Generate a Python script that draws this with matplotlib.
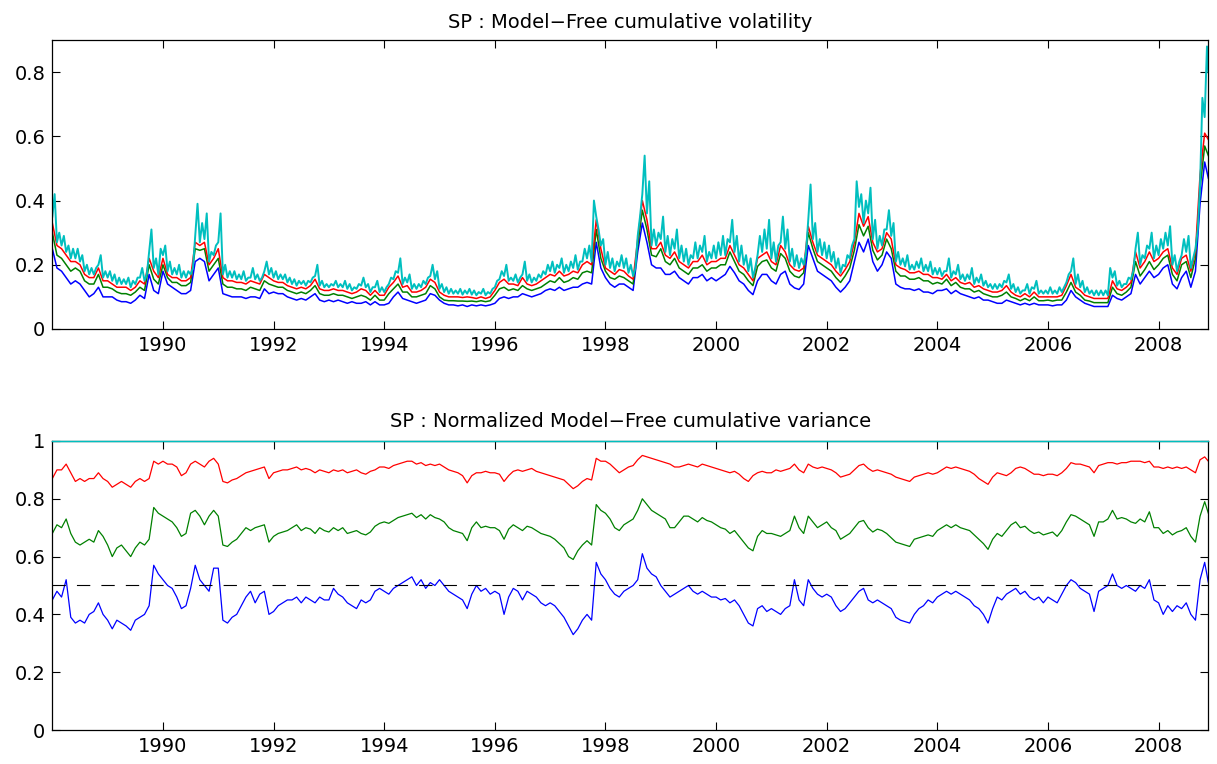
import numpy as np
import matplotlib
matplotlib.use("Agg")
import matplotlib.pyplot as plt

# monthly samples, Jan 1988 .. Nov 2008, plus the last trading day
years = np.append(1988 + np.arange(251) / 12.0, 2008.9)

# top panel: model-free cumulative volatility (one row per year)
# total volatility: start-of-month level and mid-month high
vol_cyan_base = [
    [0.35, 0.27, 0.26, 0.24, 0.22, 0.22, 0.21, 0.18, 0.17, 0.17, 0.20, 0.16],
    [0.16, 0.15, 0.14, 0.14, 0.14, 0.13, 0.14, 0.16, 0.15, 0.24, 0.19, 0.17],
    [0.23, 0.18, 0.17, 0.17, 0.16, 0.16, 0.17, 0.29, 0.27, 0.28, 0.21, 0.23],
    [0.27, 0.17, 0.16, 0.16, 0.155, 0.155, 0.15, 0.16, 0.155, 0.15, 0.18, 0.17],
    [0.16, 0.155, 0.155, 0.145, 0.14, 0.135, 0.14, 0.135, 0.145, 0.165, 0.135, 0.13],
    [0.13, 0.135, 0.13, 0.13, 0.125, 0.12, 0.125, 0.135, 0.13, 0.115, 0.13, 0.115],
    [0.115, 0.14, 0.155, 0.175, 0.14, 0.145, 0.125, 0.125, 0.13, 0.14, 0.165, 0.155],
    [0.125, 0.115, 0.11, 0.11, 0.11, 0.107, 0.11, 0.107, 0.105, 0.11, 0.105, 0.11],
    [0.13, 0.155, 0.165, 0.15, 0.15, 0.145, 0.17, 0.15, 0.145, 0.15, 0.16, 0.17],
    [0.18, 0.175, 0.19, 0.175, 0.18, 0.19, 0.185, 0.21, 0.22, 0.21, 0.35, 0.26],
    [0.20, 0.19, 0.18, 0.195, 0.19, 0.175, 0.165, 0.29, 0.42, 0.36, 0.26, 0.26],
    [0.28, 0.24, 0.23, 0.25, 0.22, 0.21, 0.20, 0.22, 0.22, 0.24, 0.21, 0.22],
    [0.22, 0.23, 0.23, 0.27, 0.24, 0.21, 0.20, 0.18, 0.16, 0.23, 0.24, 0.25],
    [0.22, 0.21, 0.27, 0.25, 0.21, 0.195, 0.19, 0.20, 0.34, 0.28, 0.24, 0.23],
    [0.22, 0.21, 0.19, 0.175, 0.195, 0.22, 0.28, 0.38, 0.33, 0.36, 0.28, 0.25],
    [0.26, 0.31, 0.29, 0.21, 0.20, 0.195, 0.185, 0.185, 0.19, 0.18, 0.18, 0.17],
    [0.17, 0.165, 0.18, 0.16, 0.17, 0.155, 0.15, 0.155, 0.14, 0.145, 0.135, 0.13],
    [0.125, 0.125, 0.13, 0.145, 0.125, 0.115, 0.11, 0.12, 0.11, 0.125, 0.11, 0.11],
    [0.11, 0.11, 0.11, 0.115, 0.145, 0.18, 0.14, 0.13, 0.115, 0.11, 0.105, 0.105],
    [0.105, 0.105, 0.16, 0.135, 0.13, 0.14, 0.155, 0.25, 0.20, 0.22, 0.25, 0.22],
    [0.23, 0.25, 0.26, 0.20, 0.18, 0.23, 0.24, 0.19, 0.25, 0.45, 0.66, 0.80],
]
vol_cyan_high = [
    [0.42, 0.30, 0.29, 0.26, 0.25, 0.25, 0.23, 0.20, 0.19, 0.19, 0.23, 0.18],
    [0.18, 0.17, 0.16, 0.155, 0.16, 0.15, 0.16, 0.19, 0.17, 0.31, 0.22, 0.25],
    [0.26, 0.21, 0.19, 0.20, 0.18, 0.18, 0.19, 0.39, 0.33, 0.36, 0.24, 0.26],
    [0.36, 0.20, 0.18, 0.18, 0.17, 0.18, 0.16, 0.19, 0.17, 0.16, 0.21, 0.19],
    [0.18, 0.17, 0.17, 0.16, 0.155, 0.15, 0.15, 0.15, 0.16, 0.20, 0.15, 0.14],
    [0.14, 0.15, 0.14, 0.15, 0.14, 0.13, 0.14, 0.16, 0.14, 0.13, 0.15, 0.13],
    [0.13, 0.16, 0.18, 0.22, 0.16, 0.17, 0.14, 0.14, 0.15, 0.16, 0.20, 0.18],
    [0.14, 0.13, 0.125, 0.12, 0.125, 0.12, 0.125, 0.12, 0.115, 0.125, 0.115, 0.125],
    [0.15, 0.18, 0.20, 0.16, 0.17, 0.16, 0.21, 0.17, 0.16, 0.17, 0.18, 0.20],
    [0.21, 0.20, 0.22, 0.20, 0.21, 0.23, 0.21, 0.25, 0.26, 0.40, 0.31, 0.28],
    [0.24, 0.22, 0.21, 0.23, 0.22, 0.20, 0.19, 0.35, 0.54, 0.46, 0.31, 0.30],
    [0.35, 0.29, 0.28, 0.31, 0.26, 0.25, 0.23, 0.27, 0.26, 0.29, 0.24, 0.26],
    [0.27, 0.29, 0.28, 0.34, 0.29, 0.26, 0.23, 0.22, 0.19, 0.29, 0.31, 0.34],
    [0.27, 0.26, 0.35, 0.31, 0.25, 0.23, 0.22, 0.24, 0.45, 0.33, 0.28, 0.27],
    [0.26, 0.24, 0.22, 0.20, 0.23, 0.26, 0.46, 0.42, 0.40, 0.44, 0.34, 0.29],
    [0.31, 0.37, 0.33, 0.24, 0.22, 0.23, 0.20, 0.21, 0.22, 0.20, 0.21, 0.19],
    [0.19, 0.18, 0.22, 0.18, 0.20, 0.17, 0.17, 0.19, 0.16, 0.17, 0.15, 0.14],
    [0.14, 0.14, 0.15, 0.17, 0.14, 0.13, 0.12, 0.14, 0.13, 0.15, 0.12, 0.12],
    [0.13, 0.12, 0.13, 0.13, 0.17, 0.22, 0.17, 0.15, 0.13, 0.12, 0.12, 0.12],
    [0.12, 0.19, 0.18, 0.15, 0.14, 0.16, 0.18, 0.30, 0.23, 0.26, 0.30, 0.26],
    [0.28, 0.30, 0.32, 0.23, 0.21, 0.28, 0.29, 0.22, 0.31, 0.72, 0.88],
]
vol_red = [
    [0.33, 0.26, 0.25, 0.23, 0.21, 0.21, 0.20, 0.17, 0.16, 0.16, 0.19, 0.15],
    [0.15, 0.14, 0.13, 0.13, 0.13, 0.12, 0.13, 0.15, 0.14, 0.22, 0.18, 0.16],
    [0.22, 0.17, 0.16, 0.16, 0.15, 0.15, 0.16, 0.27, 0.26, 0.27, 0.20, 0.22],
    [0.25, 0.16, 0.15, 0.15, 0.145, 0.145, 0.14, 0.15, 0.145, 0.14, 0.17, 0.16],
    [0.15, 0.145, 0.145, 0.135, 0.13, 0.125, 0.13, 0.125, 0.135, 0.155, 0.125, 0.12],
    [0.12, 0.125, 0.12, 0.12, 0.115, 0.11, 0.115, 0.125, 0.12, 0.105, 0.12, 0.105],
    [0.105, 0.13, 0.145, 0.165, 0.13, 0.135, 0.115, 0.115, 0.12, 0.13, 0.155, 0.145],
    [0.115, 0.105, 0.10, 0.10, 0.10, 0.098, 0.10, 0.098, 0.095, 0.10, 0.095, 0.10],
    [0.12, 0.145, 0.155, 0.14, 0.14, 0.135, 0.16, 0.14, 0.135, 0.14, 0.15, 0.16],
    [0.17, 0.165, 0.18, 0.165, 0.17, 0.18, 0.175, 0.20, 0.21, 0.20, 0.34, 0.25],
    [0.19, 0.18, 0.17, 0.185, 0.18, 0.165, 0.155, 0.28, 0.40, 0.34, 0.25, 0.25],
    [0.27, 0.23, 0.22, 0.24, 0.21, 0.20, 0.19, 0.21, 0.21, 0.23, 0.20, 0.21],
    [0.21, 0.22, 0.22, 0.26, 0.23, 0.20, 0.19, 0.17, 0.15, 0.22, 0.23, 0.24],
    [0.21, 0.20, 0.26, 0.24, 0.20, 0.185, 0.18, 0.19, 0.32, 0.27, 0.23, 0.22],
    [0.21, 0.20, 0.18, 0.165, 0.185, 0.21, 0.27, 0.36, 0.32, 0.35, 0.27, 0.24],
    [0.25, 0.30, 0.28, 0.20, 0.19, 0.185, 0.175, 0.175, 0.18, 0.17, 0.17, 0.16],
    [0.16, 0.155, 0.17, 0.15, 0.16, 0.145, 0.14, 0.145, 0.13, 0.135, 0.125, 0.12],
    [0.115, 0.115, 0.12, 0.135, 0.115, 0.105, 0.10, 0.11, 0.10, 0.115, 0.10, 0.10],
    [0.10, 0.10, 0.10, 0.105, 0.135, 0.17, 0.13, 0.12, 0.105, 0.10, 0.095, 0.095],
    [0.095, 0.095, 0.15, 0.125, 0.12, 0.13, 0.145, 0.24, 0.19, 0.21, 0.24, 0.21],
    [0.22, 0.24, 0.25, 0.19, 0.17, 0.22, 0.23, 0.18, 0.24, 0.48, 0.61, 0.59],
]
vol_green = [
    [0.30, 0.23, 0.22, 0.20, 0.18, 0.19, 0.18, 0.15, 0.14, 0.14, 0.17, 0.13],
    [0.13, 0.125, 0.115, 0.11, 0.11, 0.105, 0.115, 0.13, 0.12, 0.20, 0.155, 0.14],
    [0.20, 0.16, 0.145, 0.145, 0.135, 0.135, 0.145, 0.25, 0.245, 0.25, 0.18, 0.20],
    [0.22, 0.14, 0.13, 0.13, 0.125, 0.125, 0.12, 0.13, 0.125, 0.12, 0.15, 0.14],
    [0.135, 0.13, 0.13, 0.12, 0.115, 0.11, 0.115, 0.11, 0.12, 0.135, 0.11, 0.105],
    [0.105, 0.11, 0.105, 0.105, 0.10, 0.095, 0.10, 0.105, 0.10, 0.09, 0.105, 0.09],
    [0.09, 0.11, 0.125, 0.14, 0.115, 0.115, 0.10, 0.10, 0.105, 0.11, 0.135, 0.125],
    [0.10, 0.09, 0.088, 0.088, 0.087, 0.087, 0.086, 0.087, 0.085, 0.088, 0.085, 0.088],
    [0.105, 0.125, 0.13, 0.12, 0.125, 0.12, 0.135, 0.125, 0.12, 0.125, 0.13, 0.14],
    [0.15, 0.145, 0.16, 0.145, 0.15, 0.16, 0.155, 0.175, 0.18, 0.175, 0.31, 0.22],
    [0.18, 0.16, 0.155, 0.165, 0.16, 0.15, 0.14, 0.26, 0.37, 0.31, 0.23, 0.225],
    [0.25, 0.21, 0.20, 0.22, 0.19, 0.18, 0.17, 0.19, 0.19, 0.20, 0.18, 0.19],
    [0.19, 0.20, 0.20, 0.24, 0.21, 0.18, 0.17, 0.15, 0.135, 0.195, 0.21, 0.215],
    [0.19, 0.18, 0.235, 0.22, 0.18, 0.165, 0.16, 0.175, 0.30, 0.25, 0.21, 0.20],
    [0.19, 0.18, 0.16, 0.145, 0.165, 0.19, 0.245, 0.325, 0.29, 0.32, 0.245, 0.215],
    [0.23, 0.28, 0.25, 0.18, 0.165, 0.165, 0.155, 0.155, 0.16, 0.15, 0.15, 0.14],
    [0.145, 0.14, 0.155, 0.135, 0.145, 0.13, 0.125, 0.125, 0.115, 0.12, 0.11, 0.105],
    [0.10, 0.10, 0.105, 0.115, 0.10, 0.095, 0.088, 0.095, 0.088, 0.10, 0.088, 0.088],
    [0.09, 0.087, 0.09, 0.09, 0.115, 0.145, 0.115, 0.105, 0.09, 0.087, 0.082, 0.082],
    [0.082, 0.082, 0.13, 0.11, 0.105, 0.115, 0.13, 0.21, 0.165, 0.185, 0.21, 0.185],
    [0.20, 0.22, 0.23, 0.17, 0.15, 0.20, 0.21, 0.16, 0.22, 0.44, 0.57, 0.54],
]
vol_blue = [
    [0.25, 0.19, 0.18, 0.16, 0.14, 0.15, 0.14, 0.12, 0.10, 0.11, 0.13, 0.10],
    [0.10, 0.10, 0.09, 0.085, 0.085, 0.08, 0.09, 0.105, 0.095, 0.17, 0.12, 0.11],
    [0.18, 0.14, 0.13, 0.12, 0.11, 0.11, 0.12, 0.21, 0.22, 0.21, 0.15, 0.17],
    [0.19, 0.11, 0.105, 0.10, 0.10, 0.10, 0.095, 0.10, 0.10, 0.095, 0.125, 0.11],
    [0.115, 0.11, 0.11, 0.10, 0.095, 0.09, 0.095, 0.09, 0.10, 0.11, 0.09, 0.085],
    [0.09, 0.085, 0.09, 0.085, 0.08, 0.085, 0.08, 0.08, 0.085, 0.075, 0.085, 0.075],
    [0.075, 0.08, 0.10, 0.115, 0.095, 0.09, 0.085, 0.08, 0.085, 0.09, 0.11, 0.105],
    [0.09, 0.08, 0.075, 0.075, 0.072, 0.075, 0.07, 0.075, 0.072, 0.075, 0.072, 0.075],
    [0.08, 0.095, 0.10, 0.095, 0.10, 0.10, 0.11, 0.105, 0.10, 0.105, 0.11, 0.12],
    [0.125, 0.12, 0.13, 0.12, 0.125, 0.13, 0.13, 0.14, 0.145, 0.14, 0.27, 0.19],
    [0.16, 0.14, 0.13, 0.14, 0.14, 0.13, 0.12, 0.24, 0.33, 0.27, 0.20, 0.19],
    [0.19, 0.17, 0.17, 0.18, 0.16, 0.15, 0.14, 0.16, 0.16, 0.17, 0.15, 0.16],
    [0.15, 0.16, 0.17, 0.195, 0.175, 0.15, 0.14, 0.12, 0.107, 0.15, 0.17, 0.17],
    [0.15, 0.14, 0.17, 0.18, 0.14, 0.128, 0.123, 0.14, 0.26, 0.22, 0.18, 0.17],
    [0.16, 0.15, 0.13, 0.115, 0.13, 0.15, 0.21, 0.27, 0.24, 0.28, 0.21, 0.18],
    [0.20, 0.24, 0.22, 0.14, 0.13, 0.125, 0.125, 0.12, 0.125, 0.115, 0.115, 0.11],
    [0.12, 0.12, 0.125, 0.11, 0.12, 0.11, 0.105, 0.10, 0.095, 0.10, 0.09, 0.09],
    [0.085, 0.08, 0.08, 0.09, 0.085, 0.08, 0.075, 0.08, 0.075, 0.08, 0.075, 0.075],
    [0.075, 0.072, 0.075, 0.075, 0.09, 0.12, 0.10, 0.09, 0.08, 0.075, 0.07, 0.07],
    [0.07, 0.07, 0.105, 0.095, 0.09, 0.10, 0.11, 0.17, 0.14, 0.16, 0.18, 0.16],
    [0.17, 0.19, 0.20, 0.14, 0.125, 0.16, 0.18, 0.13, 0.18, 0.39, 0.52, 0.47],
]

# bottom panel: cumulative variance normalised by the total (cyan = 1)
var_red = [
    [0.87, 0.90, 0.90, 0.92, 0.89, 0.86, 0.87, 0.86, 0.87, 0.87, 0.89, 0.87],
    [0.86, 0.84, 0.85, 0.86, 0.85, 0.84, 0.86, 0.87, 0.86, 0.87, 0.93, 0.92],
    [0.93, 0.92, 0.92, 0.91, 0.88, 0.89, 0.92, 0.93, 0.92, 0.91, 0.93, 0.94],
    [0.92, 0.86, 0.855, 0.865, 0.87, 0.88, 0.89, 0.895, 0.90, 0.905, 0.91, 0.87],
    [0.89, 0.895, 0.90, 0.90, 0.905, 0.91, 0.90, 0.905, 0.90, 0.89, 0.90, 0.895],
    [0.89, 0.90, 0.895, 0.90, 0.89, 0.895, 0.90, 0.89, 0.885, 0.895, 0.90, 0.91],
    [0.91, 0.905, 0.915, 0.92, 0.925, 0.93, 0.93, 0.92, 0.925, 0.915, 0.92, 0.915],
    [0.92, 0.91, 0.90, 0.895, 0.89, 0.88, 0.855, 0.88, 0.89, 0.89, 0.895, 0.89],
    [0.89, 0.885, 0.86, 0.88, 0.895, 0.90, 0.895, 0.90, 0.905, 0.895, 0.89, 0.885],
    [0.88, 0.875, 0.87, 0.865, 0.85, 0.835, 0.845, 0.86, 0.87, 0.865, 0.94, 0.93],
    [0.93, 0.92, 0.905, 0.89, 0.90, 0.91, 0.915, 0.935, 0.95, 0.945, 0.94, 0.935],
    [0.93, 0.925, 0.92, 0.91, 0.91, 0.915, 0.92, 0.915, 0.91, 0.92, 0.915, 0.91],
    [0.905, 0.90, 0.895, 0.89, 0.895, 0.885, 0.87, 0.86, 0.88, 0.89, 0.895, 0.89],
    [0.89, 0.90, 0.895, 0.90, 0.905, 0.92, 0.90, 0.89, 0.92, 0.91, 0.905, 0.91],
    [0.905, 0.90, 0.89, 0.875, 0.88, 0.885, 0.90, 0.915, 0.92, 0.905, 0.895, 0.90],
    [0.895, 0.89, 0.885, 0.875, 0.87, 0.865, 0.86, 0.875, 0.88, 0.885, 0.89, 0.885],
    [0.89, 0.90, 0.91, 0.905, 0.91, 0.905, 0.90, 0.895, 0.885, 0.87, 0.86, 0.85],
    [0.875, 0.89, 0.885, 0.88, 0.89, 0.905, 0.91, 0.905, 0.895, 0.885, 0.885, 0.88],
    [0.885, 0.885, 0.88, 0.89, 0.905, 0.925, 0.92, 0.92, 0.915, 0.91, 0.89, 0.915],
    [0.92, 0.925, 0.925, 0.92, 0.925, 0.925, 0.93, 0.93, 0.93, 0.925, 0.93, 0.91],
    [0.91, 0.905, 0.91, 0.905, 0.91, 0.905, 0.91, 0.90, 0.89, 0.935, 0.945, 0.93],
]
var_green = [
    [0.68, 0.71, 0.70, 0.73, 0.68, 0.65, 0.64, 0.65, 0.66, 0.65, 0.69, 0.67],
    [0.64, 0.60, 0.63, 0.64, 0.62, 0.60, 0.63, 0.65, 0.64, 0.66, 0.77, 0.75],
    [0.74, 0.73, 0.72, 0.70, 0.67, 0.68, 0.75, 0.76, 0.74, 0.71, 0.74, 0.76],
    [0.74, 0.64, 0.635, 0.65, 0.66, 0.68, 0.70, 0.69, 0.70, 0.705, 0.71, 0.65],
    [0.67, 0.68, 0.685, 0.69, 0.70, 0.71, 0.69, 0.70, 0.695, 0.68, 0.70, 0.69],
    [0.685, 0.70, 0.69, 0.70, 0.68, 0.685, 0.69, 0.68, 0.675, 0.685, 0.705, 0.715],
    [0.72, 0.715, 0.725, 0.735, 0.74, 0.745, 0.75, 0.735, 0.745, 0.73, 0.745, 0.735],
    [0.73, 0.72, 0.70, 0.69, 0.685, 0.68, 0.655, 0.70, 0.72, 0.70, 0.705, 0.70],
    [0.70, 0.69, 0.66, 0.695, 0.71, 0.70, 0.69, 0.705, 0.70, 0.69, 0.68, 0.675],
    [0.67, 0.66, 0.645, 0.63, 0.60, 0.59, 0.62, 0.64, 0.655, 0.64, 0.78, 0.76],
    [0.75, 0.73, 0.70, 0.69, 0.71, 0.72, 0.73, 0.76, 0.80, 0.78, 0.76, 0.75],
    [0.74, 0.73, 0.70, 0.70, 0.72, 0.74, 0.74, 0.73, 0.72, 0.735, 0.725, 0.72],
    [0.71, 0.70, 0.695, 0.68, 0.69, 0.67, 0.65, 0.63, 0.62, 0.67, 0.69, 0.68],
    [0.68, 0.675, 0.67, 0.68, 0.69, 0.74, 0.70, 0.68, 0.74, 0.72, 0.70, 0.71],
    [0.72, 0.70, 0.69, 0.66, 0.67, 0.68, 0.70, 0.72, 0.725, 0.70, 0.685, 0.695],
    [0.69, 0.68, 0.665, 0.65, 0.645, 0.64, 0.635, 0.66, 0.665, 0.67, 0.675, 0.67],
    [0.69, 0.70, 0.71, 0.70, 0.71, 0.70, 0.695, 0.69, 0.675, 0.66, 0.645, 0.625],
    [0.66, 0.68, 0.67, 0.69, 0.71, 0.72, 0.70, 0.705, 0.69, 0.68, 0.685, 0.675],
    [0.68, 0.685, 0.67, 0.69, 0.72, 0.745, 0.74, 0.73, 0.72, 0.71, 0.67, 0.72],
    [0.72, 0.73, 0.76, 0.73, 0.735, 0.73, 0.72, 0.715, 0.73, 0.72, 0.755, 0.70],
    [0.70, 0.68, 0.69, 0.675, 0.685, 0.69, 0.70, 0.67, 0.65, 0.74, 0.79, 0.75],
]
var_blue = [
    [0.45, 0.48, 0.46, 0.52, 0.39, 0.37, 0.38, 0.37, 0.40, 0.41, 0.44, 0.40],
    [0.38, 0.35, 0.38, 0.37, 0.36, 0.345, 0.38, 0.39, 0.40, 0.43, 0.57, 0.54],
    [0.52, 0.50, 0.49, 0.46, 0.42, 0.43, 0.49, 0.57, 0.52, 0.50, 0.48, 0.56],
    [0.56, 0.38, 0.37, 0.39, 0.40, 0.43, 0.46, 0.48, 0.44, 0.47, 0.48, 0.40],
    [0.41, 0.43, 0.44, 0.45, 0.45, 0.46, 0.44, 0.46, 0.45, 0.44, 0.46, 0.45],
    [0.45, 0.49, 0.47, 0.46, 0.44, 0.43, 0.42, 0.45, 0.44, 0.45, 0.48, 0.49],
    [0.48, 0.47, 0.49, 0.50, 0.51, 0.52, 0.53, 0.50, 0.52, 0.49, 0.51, 0.50],
    [0.52, 0.50, 0.48, 0.47, 0.46, 0.45, 0.42, 0.47, 0.50, 0.48, 0.49, 0.47],
    [0.48, 0.47, 0.40, 0.46, 0.49, 0.48, 0.45, 0.48, 0.47, 0.46, 0.44, 0.43],
    [0.44, 0.43, 0.41, 0.39, 0.36, 0.33, 0.35, 0.38, 0.40, 0.38, 0.58, 0.54],
    [0.52, 0.49, 0.47, 0.46, 0.48, 0.49, 0.50, 0.52, 0.61, 0.56, 0.54, 0.53],
    [0.50, 0.48, 0.46, 0.47, 0.48, 0.49, 0.50, 0.48, 0.47, 0.48, 0.47, 0.46],
    [0.46, 0.45, 0.455, 0.44, 0.45, 0.43, 0.40, 0.37, 0.36, 0.42, 0.43, 0.41],
    [0.42, 0.41, 0.40, 0.42, 0.43, 0.52, 0.45, 0.43, 0.52, 0.49, 0.47, 0.46],
    [0.47, 0.46, 0.43, 0.41, 0.42, 0.44, 0.46, 0.48, 0.49, 0.45, 0.44, 0.45],
    [0.44, 0.43, 0.42, 0.39, 0.38, 0.375, 0.37, 0.40, 0.42, 0.43, 0.45, 0.44],
    [0.46, 0.47, 0.48, 0.47, 0.48, 0.47, 0.46, 0.45, 0.43, 0.42, 0.40, 0.37],
    [0.42, 0.46, 0.45, 0.47, 0.48, 0.49, 0.47, 0.48, 0.46, 0.45, 0.46, 0.44],
    [0.46, 0.45, 0.44, 0.47, 0.50, 0.52, 0.51, 0.49, 0.48, 0.47, 0.41, 0.48],
    [0.49, 0.50, 0.54, 0.50, 0.49, 0.50, 0.49, 0.48, 0.50, 0.49, 0.52, 0.45],
    [0.44, 0.40, 0.43, 0.41, 0.43, 0.42, 0.44, 0.40, 0.38, 0.52, 0.58, 0.51],
]
var_cyan = [1.0] * len(years)
half_line = 0.5

year_ticks = list(range(1990, 2009, 2))
C_BLUE = (0, 0, 1)
C_GREEN = (0, 0.5, 0)
C_RED = (1, 0, 0)
C_CYAN = (0, 0.75, 0.75)

plt.rcParams['font.family'] = ['DejaVu Sans']


def flat(rows):
    return np.array([v for row in rows for v in row])


def style_axis(ax, yticks, ylim):
    ax.set_xlim(years[0], years[-1])
    ax.set_ylim(*ylim)
    ax.set_xticks(year_ticks)
    ax.set_xticklabels([str(y) for y in year_ticks])
    ax.set_yticks(yticks)
    ax.set_yticklabels(['%g' % v for v in yticks])
    ax.tick_params(direction='in', length=6, width=0.8, top=True, right=True,
                   labelsize=14, pad=5)
    for sp in ax.spines.values():
        sp.set_linewidth(0.9)


# total volatility alternates start-of-month level and mid-month high
c_base = flat(vol_cyan_base)
c_high = flat(vol_cyan_high)
t_cyan = np.append(np.column_stack([years[:-1], years[:-1] + 1 / 24.0]).ravel(), years[-1])
v_cyan = np.append(np.column_stack([c_base[:-1], c_high]).ravel(), c_base[-1])

fig = plt.figure(figsize=(12.17, 7.64), dpi=100)
ax1 = fig.add_axes([0.0430, 0.5694, 0.9499, 0.3782])
ax2 = fig.add_axes([0.0430, 0.0445, 0.9499, 0.3783])

# top: cumulative volatility, cyan drawn last (on top)
ax1.plot(years, flat(vol_blue), color=C_BLUE, lw=1.1)
ax1.plot(years, flat(vol_green), color=C_GREEN, lw=1.1)
ax1.plot(years, flat(vol_red), color=C_RED, lw=1.1)
ax1.plot(t_cyan, v_cyan, color=C_CYAN, lw=1.4)
style_axis(ax1, [0, 0.2, 0.4, 0.6, 0.8], (0, 0.9))
ax1.set_title('SP : Model\u2212Free cumulative volatility', fontsize=14, pad=9)

# bottom: normalized cumulative variance
ax2.plot(years, flat(var_blue), color=C_BLUE, lw=0.9)
ax2.plot(years, flat(var_green), color=C_GREEN, lw=0.9)
ax2.plot(years, flat(var_red), color=C_RED, lw=0.9)
ax2.plot(years, var_cyan, color=C_CYAN, lw=1.0, clip_on=False, zorder=3)
ax2.axhline(half_line, color='k', lw=0.8, dashes=(12, 10))
style_axis(ax2, [0, 0.2, 0.4, 0.6, 0.8, 1], (0, 1))
ax2.set_title('SP : Normalized Model\u2212Free cumulative variance', fontsize=14, pad=10)

fig.savefig('out.png', dpi=100)
